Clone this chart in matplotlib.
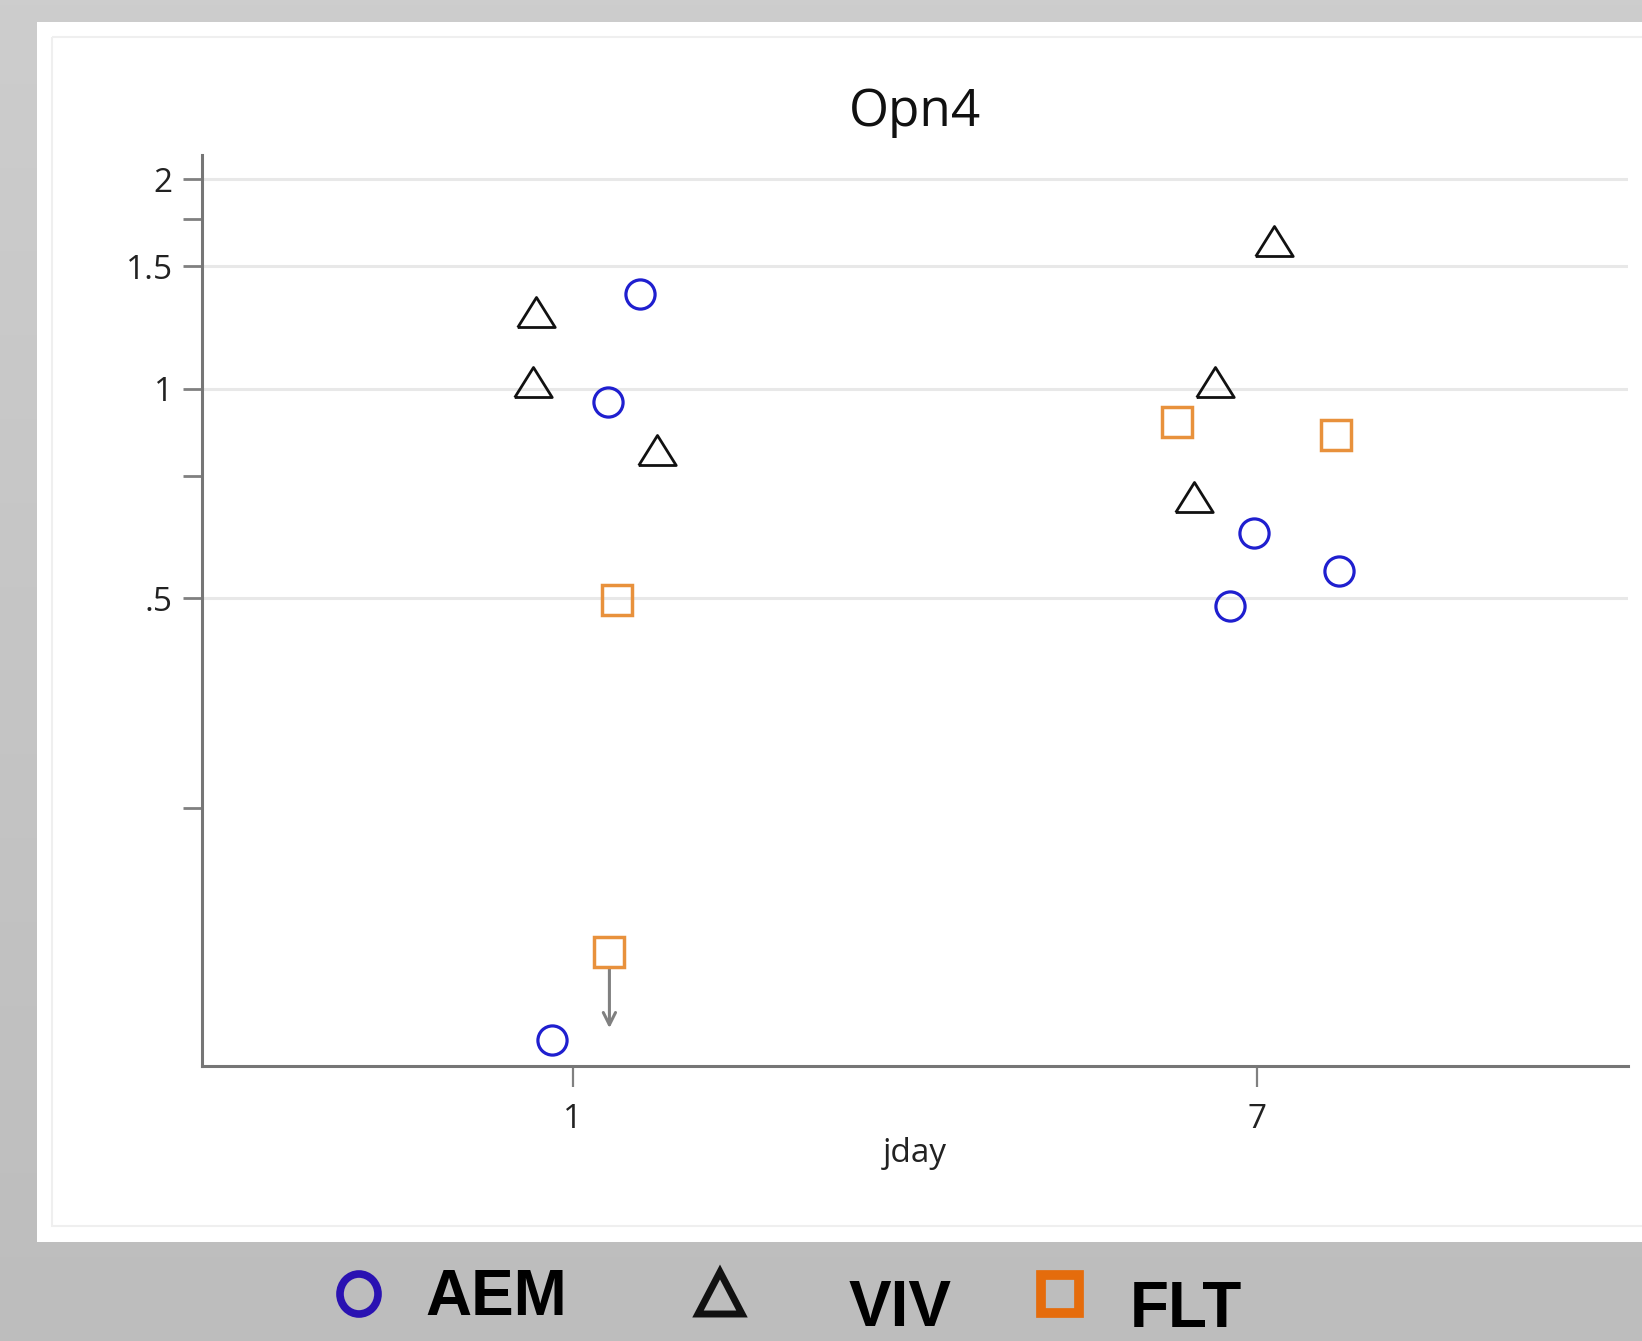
import matplotlib
matplotlib.use("Agg")
import matplotlib.pyplot as plt
import numpy as np
from matplotlib.patches import Rectangle, Ellipse, Polygon
from matplotlib.ticker import FixedLocator, NullFormatter, FixedFormatter

# ---------------- data ----------------
title = "Opn4"
xlabel = "jday"
x_ticks = [1, 7]
x_ticklabels = ["1", "7"]
y_major = [0.5, 1, 1.5, 2]
y_major_labels = [".5", "1", "1.5", "2"]
y_minor = [0.25, 0.75, 1.75]

aem_x = [1.59, 1.31, 0.82, 6.97, 6.76, 7.72]
aem_y = [1.366, 0.956, 0.116, 0.621, 0.487, 0.547]

viv_x = [0.68, 0.65, 1.74, 7.15, 6.63, 6.45]
viv_y = [1.288, 1.021, 0.815, 1.632, 1.021, 0.699]

flt_x = [1.39, 1.32, 6.30, 7.69]
flt_y = [0.497, 0.155, 0.897, 0.859]
flt_censored = [False, True, False, False]

legend_labels = ["AEM", "VIV", "FLT"]

# ---------------- figure ----------------
W, H = 1642, 1341
fig = plt.figure(figsize=(W / 100, H / 100), dpi=100)

# background overlay axes in pixel coordinates
bg = fig.add_axes([0, 0, 1, 1])
bg.set_xlim(0, W)
bg.set_ylim(H, 0)
bg.axis("off")
grad = np.linspace(0, 1, 256)[:, None]
bg.imshow(grad, extent=[0, W, H, 0], cmap=matplotlib.colors.LinearSegmentedColormap.from_list(
    "g", ["#cdcdcd", "#bdbdbd"]), aspect="auto", zorder=0)
bg.add_patch(Rectangle((37, 22), W - 37, 1242 - 22, facecolor="white", edgecolor="none", zorder=1))
bg.add_patch(Rectangle((52, 37), W, 1226 - 37, facecolor="none", edgecolor="#efefef", lw=1.5, zorder=2))

# legend swatches and labels
bg.add_patch(Ellipse((359, 1294), 38, 40, facecolor="none", edgecolor="#2a12b2", lw=5.5, zorder=3))
bg.add_patch(Polygon([(698, 1314), (742, 1314), (720, 1272)], closed=True, facecolor="none",
                     edgecolor="#111111", lw=5, joinstyle="miter", zorder=3))
bg.add_patch(Rectangle((1041, 1275), 38, 38, facecolor="none", edgecolor="#e56c0c", lw=7, zorder=3))
lfont = dict(family="Liberation Sans", fontweight="bold", fontsize=46, color="black", zorder=4)
bg.text(425, 1298, legend_labels[0], ha="left", va="center", **lfont)
bg.text(849, 1309, legend_labels[1], ha="left", va="center", **lfont)
bg.text(1130, 1310, legend_labels[2], ha="left", va="center", **lfont)

# main axes
left, right = 202 / W, 1628 / W
bottom, top = 1 - 1066 / H, 1 - 155 / H
ax = fig.add_axes([left, bottom, right - left, top - bottom])
ax.set_facecolor("none")
ax.set_yscale("log", base=2)
ax.set_xlim(-2.253, 10.253)
ax.set_ylim(0.1064, 2.166)

ax.yaxis.set_major_locator(FixedLocator(y_major))
ax.yaxis.set_major_formatter(FixedFormatter(y_major_labels))
ax.yaxis.set_minor_locator(FixedLocator(y_minor))
ax.yaxis.set_minor_formatter(NullFormatter())
ax.set_xticks(x_ticks)
ax.set_xticklabels(x_ticklabels)

for s in ["top", "right"]:
    ax.spines[s].set_visible(False)
for s in ["left", "bottom"]:
    ax.spines[s].set_color("#767676")
    ax.spines[s].set_linewidth(2.2)

tfont = "Open Sans"
ax.tick_params(axis="y", which="both", length=14, width=2, color="#808080",
               pad=7, labelsize=24, labelcolor="#222222")
ax.tick_params(axis="x", which="both", length=15, width=1.6, color="#808080",
               pad=12, labelsize=24, labelcolor="#222222")
for lab in ax.get_xticklabels() + ax.get_yticklabels():
    lab.set_family(tfont)

ax.grid(True, axis="y", which="major", color="#e8e8e8", lw=2.2, zorder=0)
ax.set_axisbelow(True)

ax.plot(aem_x, aem_y, ls="none", marker="o", ms=21, mfc="none", mec="#1f1fcf", mew=2.3, zorder=3)
tri = [(-1, -0.8), (1, -0.8), (0, 0.8), (-1, -0.8)]
ax.plot(viv_x, viv_y, ls="none", marker=tri, ms=27, mfc="none", mec="#111111", mew=2.0, zorder=3)
ax.plot(flt_x, flt_y, ls="none", marker="s", ms=21, mfc="none", mec="#e8913c", mew=2.5, zorder=3)

for x, y, c in zip(flt_x, flt_y, flt_censored):
    if c:
        ax.annotate("", xy=(x, y * 0.778), xytext=(x, y),
                    arrowprops=dict(arrowstyle="->", color="#808080", lw=2.2,
                                    shrinkA=12, shrinkB=0, mutation_scale=22), zorder=2)

ax.text(0.5, 1 + 43 / 911, title, transform=ax.transAxes, ha="center", va="center",
        fontsize=37, family=tfont, color="#111111")
ax.set_xlabel(xlabel, fontsize=24, family=tfont, color="#222222")
ax.xaxis.set_label_coords(0.5, -88 / 911)
ax.xaxis.label.set_va("center")

fig.savefig("out.png", dpi=100)
